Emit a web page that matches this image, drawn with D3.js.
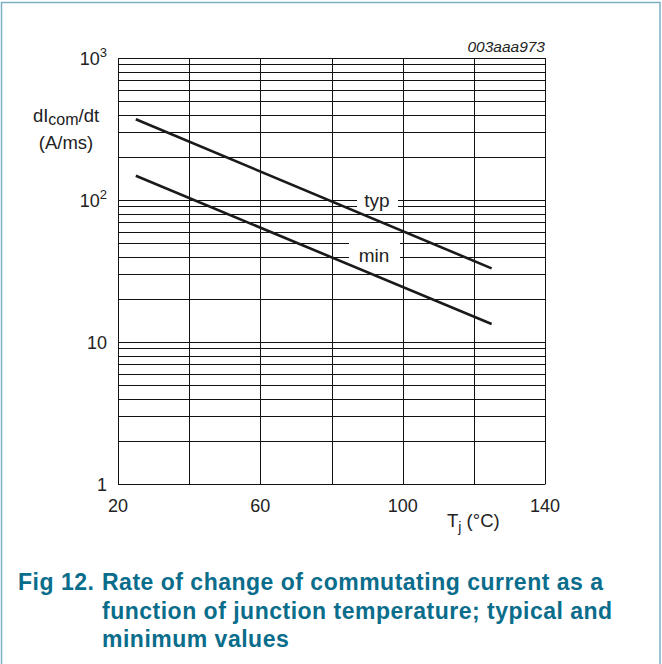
<!DOCTYPE html>
<html>
<head>
<meta charset="utf-8">
<script src="https://cdn.jsdelivr.net/npm/d3@7"></script>
<style>
  body { margin: 0; background: #fff; }
  svg { display: block; font-family: "Liberation Sans", Arial, sans-serif; }
</style>
</head>
<body>
<svg id="chart" width="662" height="664"></svg>
<script>
// data (straight lines on log scale)
const tempTyp = [25, 125];
const valTyp = [370, 33];
const tempMin = [25, 125];
const valMin = [148, 13.4];

const xTicks = [20, 60, 100, 140];
const xGrid = [20, 40, 60, 80, 100, 120, 140];
const yLabels = [
  { v: 1000, base: "10", sup: "3" },
  { v: 100, base: "10", sup: "2" },
  { v: 10, base: "10", sup: "" },
  { v: 1, base: "1", sup: "" }
];

// plot area
const plot = { left: 118, right: 545, top: 58, bottom: 484 };

const svg = d3.select("#chart");

// outer frame
svg.append("rect")
  .attr("x", 1.5).attr("y", 2.5)
  .attr("width", 658.5).attr("height", 670)
  .attr("fill", "none")
  .attr("stroke", "#7db0c2")
  .attr("stroke-width", 1.5);

const x = d3.scaleLinear().domain([20, 140]).range([plot.left, plot.right]);
const y = d3.scaleLog().domain([1, 1000]).range([plot.bottom, plot.top]);

// horizontal grid: 1..9 in each decade
const yGrid = [];
[1, 10, 100].forEach(d => {
  for (let k = 1; k < 10; k++) yGrid.push(d * k);
});
yGrid.push(1000);

const grid = svg.append("g").attr("stroke", "#111").attr("stroke-width", 1);

grid.selectAll("line.h")
  .data(yGrid)
  .join("line")
  .attr("class", "h")
  .attr("x1", plot.left).attr("x2", plot.right)
  .attr("y1", d => Math.round(y(d)) + 0.5)
  .attr("y2", d => Math.round(y(d)) + 0.5);

grid.selectAll("line.v")
  .data(xGrid)
  .join("line")
  .attr("class", "v")
  .attr("x1", d => Math.round(x(d)) + 0.5)
  .attr("x2", d => Math.round(x(d)) + 0.5)
  .attr("y1", plot.top).attr("y2", plot.bottom + 0.5);

// white boxes behind curve labels
svg.append("rect").attr("x", 357).attr("y", 190).attr("width", 41).attr("height", 20).attr("fill", "#fff");
svg.append("rect").attr("x", 349).attr("y", 239).attr("width", 51).attr("height", 23).attr("fill", "#fff");

// curves
const line = d3.line()
  .x(d => x(d[0]))
  .y(d => y(d[1]));

[[tempTyp, valTyp], [tempMin, valMin]].forEach(([t, v]) => {
  svg.append("path")
    .datum(d3.zip(t, v))
    .attr("d", line)
    .attr("fill", "none")
    .attr("stroke", "#1a1a1a")
    .attr("stroke-width", 2.6);
});

// curve labels
svg.append("text").attr("x", 377).attr("y", 207)
  .attr("text-anchor", "middle").style("font-size", "19px").attr("fill", "#222").text("typ");
svg.append("text").attr("x", 374).attr("y", 262)
  .attr("text-anchor", "middle").style("font-size", "19px").attr("fill", "#222").text("min");

// x tick labels
svg.selectAll("text.xt")
  .data(xTicks)
  .join("text")
  .attr("class", "xt")
  .attr("x", d => x(d))
  .attr("y", 512)
  .attr("text-anchor", "middle")
  .style("font-size", "18px")
  .attr("fill", "#222")
  .text(d => d);

// y tick labels with superscripts
yLabels.forEach(d => {
  const t = svg.append("text")
    .attr("x", 107)
    .attr("y", y(d.v) + 7)
    .attr("text-anchor", "end")
    .style("font-size", "18px")
    .attr("fill", "#222");
  t.append("tspan").text(d.base);
  if (d.sup) {
    t.append("tspan").attr("dy", -8).style("font-size", "13px").text(d.sup);
  }
});

// y axis title
const yt = svg.append("text").attr("x", 66).attr("y", 122)
  .attr("text-anchor", "middle").style("font-size", "18.5px").attr("fill", "#222");
yt.append("tspan").text("dI");
yt.append("tspan").attr("dy", 3).style("font-size", "16px").text("com");
yt.append("tspan").attr("dy", -3).text("/dt");
svg.append("text").attr("x", 66).attr("y", 149)
  .attr("text-anchor", "middle").style("font-size", "18.5px").attr("fill", "#222").text("(A/ms)");

// x axis title
const xt = svg.append("text").attr("x", 447).attr("y", 527)
  .style("font-size", "18.5px").attr("fill", "#222");
xt.append("tspan").text("T");
xt.append("tspan").attr("dy", 5).style("font-size", "14px").text("j");
xt.append("tspan").attr("dy", -5).text(" (°C)");

// figure id
svg.append("text").attr("x", 545).attr("y", 52)
  .attr("text-anchor", "end")
  .style("font-size", "15.5px").style("font-style", "italic")
  .attr("fill", "#222").text("003aaa973");

// caption
const capColor = "#0a6d8b";
const cap = svg.append("g").attr("fill", capColor)
  .style("font-size", "23px").style("font-weight", "bold")
  .style("letter-spacing", "0.5px");
cap.append("text").attr("x", 18).attr("y", 590).text("Fig 12.");
["Rate of change of commutating current as a",
 "function of junction temperature; typical and",
 "minimum values"].forEach((s, i) => {
  cap.append("text").attr("x", 102).attr("y", 590 + i * 28.5).text(s);
});
</script>
</body>
</html>
